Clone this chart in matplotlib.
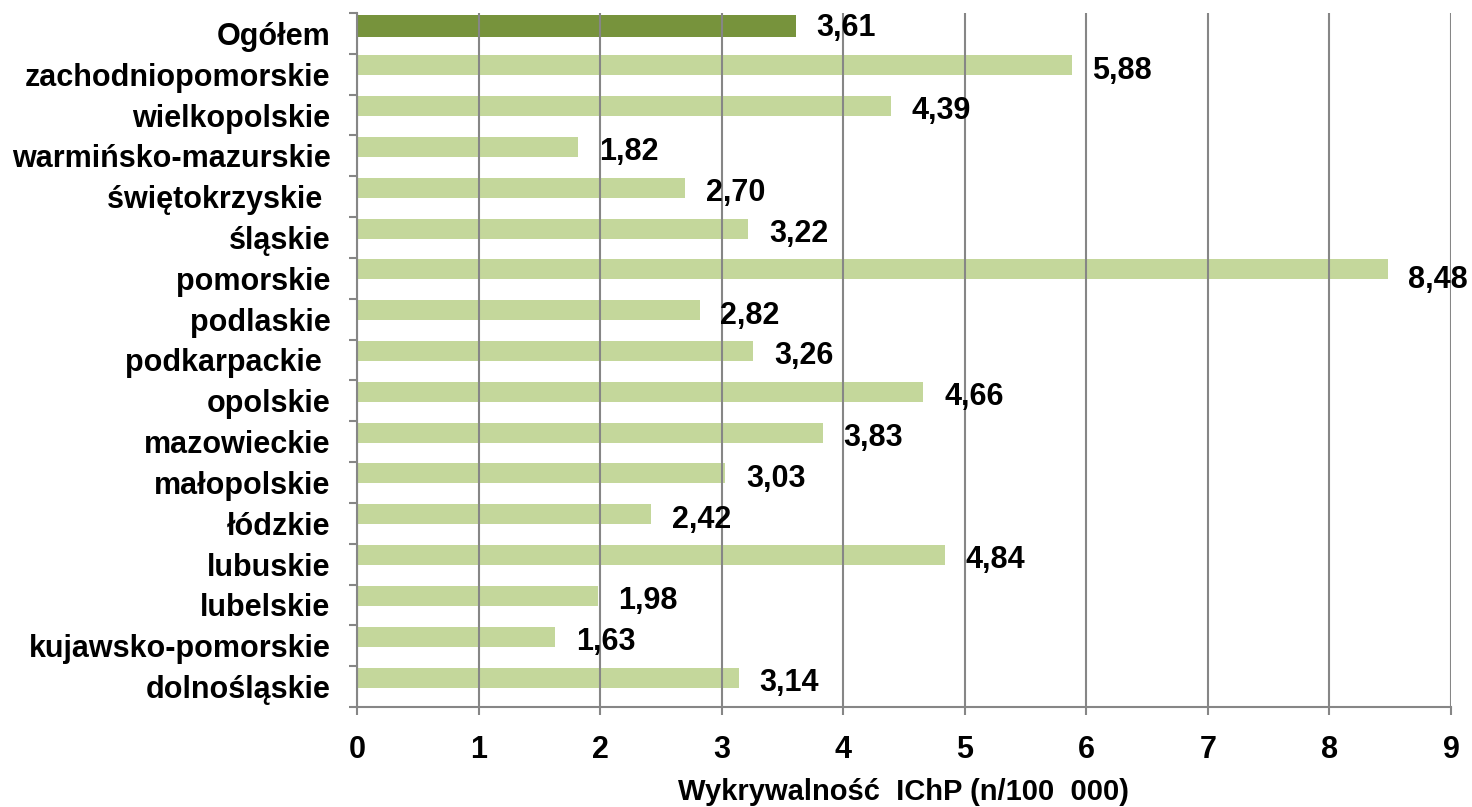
import numpy as np
import matplotlib
matplotlib.use("Agg")
import matplotlib.pyplot as plt

plt.rcParams['font.family'] = ['Liberation Sans', 'DejaVu Sans']

# top to bottom as in the chart
regions = ["Ogółem", "zachodniopomorskie", "wielkopolskie", "warmińsko-mazurskie",
           "świętokrzyskie ", "śląskie", "pomorskie", "podlaskie", "podkarpackie ",
           "opolskie", "mazowieckie", "małopolskie", "łódzkie", "lubuskie",
           "lubelskie", "kujawsko-pomorskie", "dolnośląskie"]
values = [3.61, 5.88, 4.39, 1.82, 2.70, 3.22, 8.48, 2.82, 3.26,
          4.66, 3.83, 3.03, 2.42, 4.84, 1.98, 1.63, 3.14]
xticks = list(range(10))
xlabel = "Wykrywalność  IChP (n/100  000)"

dark = "#77933C"
light = "#C4D79B"
grid_c = "#868686"
fs = 22

fig = plt.figure(figsize=(14.72, 8.07), dpi=100)
ax = fig.add_axes([357 / 1472, 1 - 707 / 807, (1451 - 357) / 1472, (707 - 13) / 807])

y = np.arange(len(regions))
# bars sit in the upper half of each category slot (Excel clustered look)
ax.barh(y[0] - 0.18, values[0], height=0.56, color=dark, zorder=1)
ax.barh(y[1:] - 0.22, values[1:], height=0.49, color=light, zorder=1)

vmax = max(values)
for yi, v in zip(y, values):
    if v == vmax:
        dy = 0.05
    elif yi == 0:
        dy = -0.14
    else:
        dy = -0.09
    ax.text(v + 0.17, yi + dy, f"{v:.2f}".replace(".", ","), va="center", ha="left",
            fontsize=fs, fontweight="bold", color="black", zorder=3)

ax.set_xlim(0, 9)
ax.set_ylim(len(regions) - 0.5, -0.5)
ax.set_xticks(xticks)
ax.set_xticklabels([str(t) for t in xticks], fontsize=fs, fontweight="bold")
ax.xaxis.grid(True, color=grid_c, linewidth=1.5, zorder=2)
ax.set_axisbelow(False)

# category ticks at boundaries, labels at centres
ax.set_yticks(np.arange(len(regions) + 1) - 0.5)
ax.set_yticklabels([])
ax.set_yticks(y, minor=True)
ax.set_yticklabels(regions, minor=True, fontsize=fs, fontweight="bold")
ax.tick_params(axis="y", which="minor", length=0, pad=19)
ax.tick_params(axis="y", which="major", length=5.8, width=1.5, color=grid_c, direction="out")
ax.tick_params(axis="x", length=5.8, width=1.5, color=grid_c, direction="out", pad=14)

for s in ["top", "right"]:
    ax.spines[s].set_visible(False)
for s in ["left", "bottom"]:
    ax.spines[s].set_color(grid_c)
    ax.spines[s].set_linewidth(1.5)

ax.set_xlabel(xlabel, fontsize=21, fontweight="bold", labelpad=10)

fig.savefig("out.png", dpi=100)
